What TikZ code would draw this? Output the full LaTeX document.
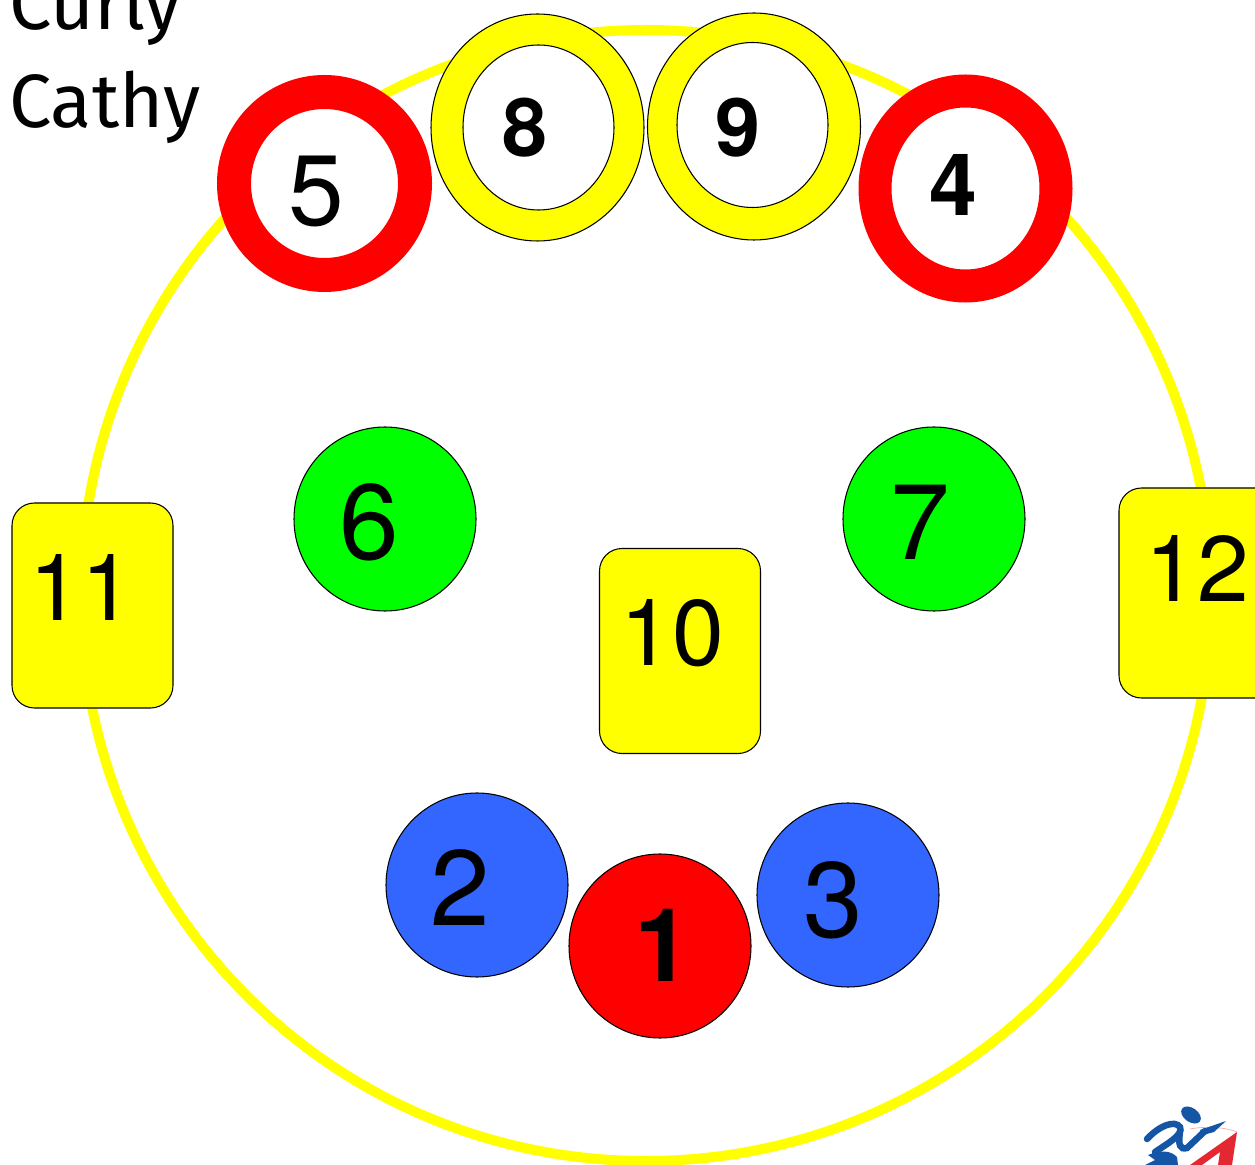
\documentclass[tikz,border=0pt]{standalone}
\usepackage{fontspec}
\setmainfont{TeX Gyre Heros}
\newfontfamily\handfont{Fira Sans}
\usetikzlibrary{shapes.geometric}
\definecolor{ringred}{RGB}{255,0,0}
\definecolor{ringyellow}{RGB}{255,255,0}
\definecolor{spotgreen}{RGB}{0,255,0}
\definecolor{spotblue}{RGB}{51,102,255}
\definecolor{logoblue}{RGB}{20,85,165}
\definecolor{logored}{RGB}{228,40,50}
\begin{document}
\begin{tikzpicture}[
	x=0.02cm, y=-0.02cm,
	spot/.style={ ellipse, draw=black, line width=0.6pt, inner sep=0pt, minimum width=182*0.02cm, minimum height=184*0.02cm },
	redring/.style={ ellipse, draw=ringred, fill=white, line width=34*0.02cm, inner sep=0pt, minimum width=181*0.02cm, minimum height=183*0.02cm },
	yellowring/.style={ ellipse, draw=black, fill=ringyellow, line width=0.6pt, inner sep=0pt, minimum width=213*0.02cm, minimum height=227*0.02cm },
	ringhole/.style={ ellipse, draw=black, fill=white, line width=0.6pt, inner sep=0pt, minimum width=151*0.02cm, minimum height=165*0.02cm },
	card/.style={ rectangle, draw=black, fill=ringyellow, line width=0.6pt, rounded corners=0.45cm, inner sep=0pt, minimum width=161*0.02cm, minimum height=205*0.02cm },
	num/.style={ inner sep=0pt, font=\fontsize{#1}{#1}\selectfont },
	numb/.style={ inner sep=0pt, font=\fontsize{#1}{#1}\selectfont\bfseries },
	hand/.style={ inner sep=0pt, anchor=base west, font=\handfont\fontsize{43}{43}\selectfont }
]
\useasboundingbox (0,0) rectangle (1255,1165);
\clip (0,0) rectangle (1255,1165);

\node at (646,595.5) (track) [ellipse, draw=ringyellow, line width=0.2cm, inner sep=0pt, minimum width=1130*0.02cm, minimum height=1131*0.02cm] {};

\node at (9,30) (curly) [hand] {Curly};
\node at (9,128) (cathy) [hand] {Cathy};

\node at (324.5,183.5) (p5) [redring] {};
\node at (316,192) (l5) [num=57] {5};

\node at (965.5,188.5) (p4) [redring, line width=33*0.02cm, minimum height=195*0.02cm] {};
\node at (953,185) (l4) [numb=49] {4};

\node at (537.5,127.5) (p8) [yellowring] {};
\node at (538.5,127.5) (h8) [ringhole] {};
\node at (525,128) (l8) [numb=46] {8};

\node at (754,126.5) (p9) [yellowring] {};
\node at (752.5,125) (h9) [ringhole] {};
\node at (738,128) (l9) [numb=46] {9};

\node at (385,519) (p6) [spot, fill=spotgreen] {};
\node at (369,522) (l6) [num=61] {6};

\node at (934,519) (p7) [spot, fill=spotgreen] {};
\node at (920,522) (l7) [num=61] {7};

\node at (680,651) (p10) [card] {};
\node at (672,633) (l10) [num=53] {10};

\node at (92.5,605.5) (p11) [card] {};
\node at (81,587) (l11) [num=53] {11};

\node at (1199.5,593) (p12) [card, minimum height=210*0.02cm] {};
\node at (1197,568) (l12) [num=53] {12};

\node at (477,885) (p2) [spot, fill=spotblue] {};
\node at (460,888) (l2) [num=61] {2};

\node at (848,895) (p3) [spot, fill=spotblue] {};
\node at (833,900) (l3) [num=61] {3};

\node at (660,946) (p1) [spot, fill=ringred] {};
\node at (663,945) (l1) [numb=58] {1};

% corner logo
\fill[logored] (1237,1132) -- (1190,1165) -- (1202,1165) -- (1220,1152) -- (1218,1165) -- (1232,1165) -- cycle;
\draw[logored!40, line width=0.4pt] (1190,1129) .. controls (1205,1126) and (1225,1127) .. (1237,1132);
\fill[logoblue, rotate around={-35:(1191,1115)}] (1191,1115) ellipse (11 and 7);
\draw[logoblue, line width=0.13cm, line cap=round] (1147,1139) .. controls (1160,1125) and (1175,1120) .. (1180,1127) .. controls (1184,1135) and (1165,1145) .. (1155,1152);
\draw[logoblue, line width=0.13cm, line cap=round] (1180,1132) .. controls (1178,1145) and (1180,1150) .. (1187,1148) -- (1205,1131);
\fill[logoblue] (1200,1130) -- (1226,1121) -- (1214,1132) -- (1203,1135) -- cycle;
\fill[logoblue] (1148,1155) .. controls (1160,1150) and (1170,1150) .. (1177,1157) -- (1178,1165) -- (1145,1165) -- (1155,1160) -- cycle;
\end{tikzpicture}
\end{document}
